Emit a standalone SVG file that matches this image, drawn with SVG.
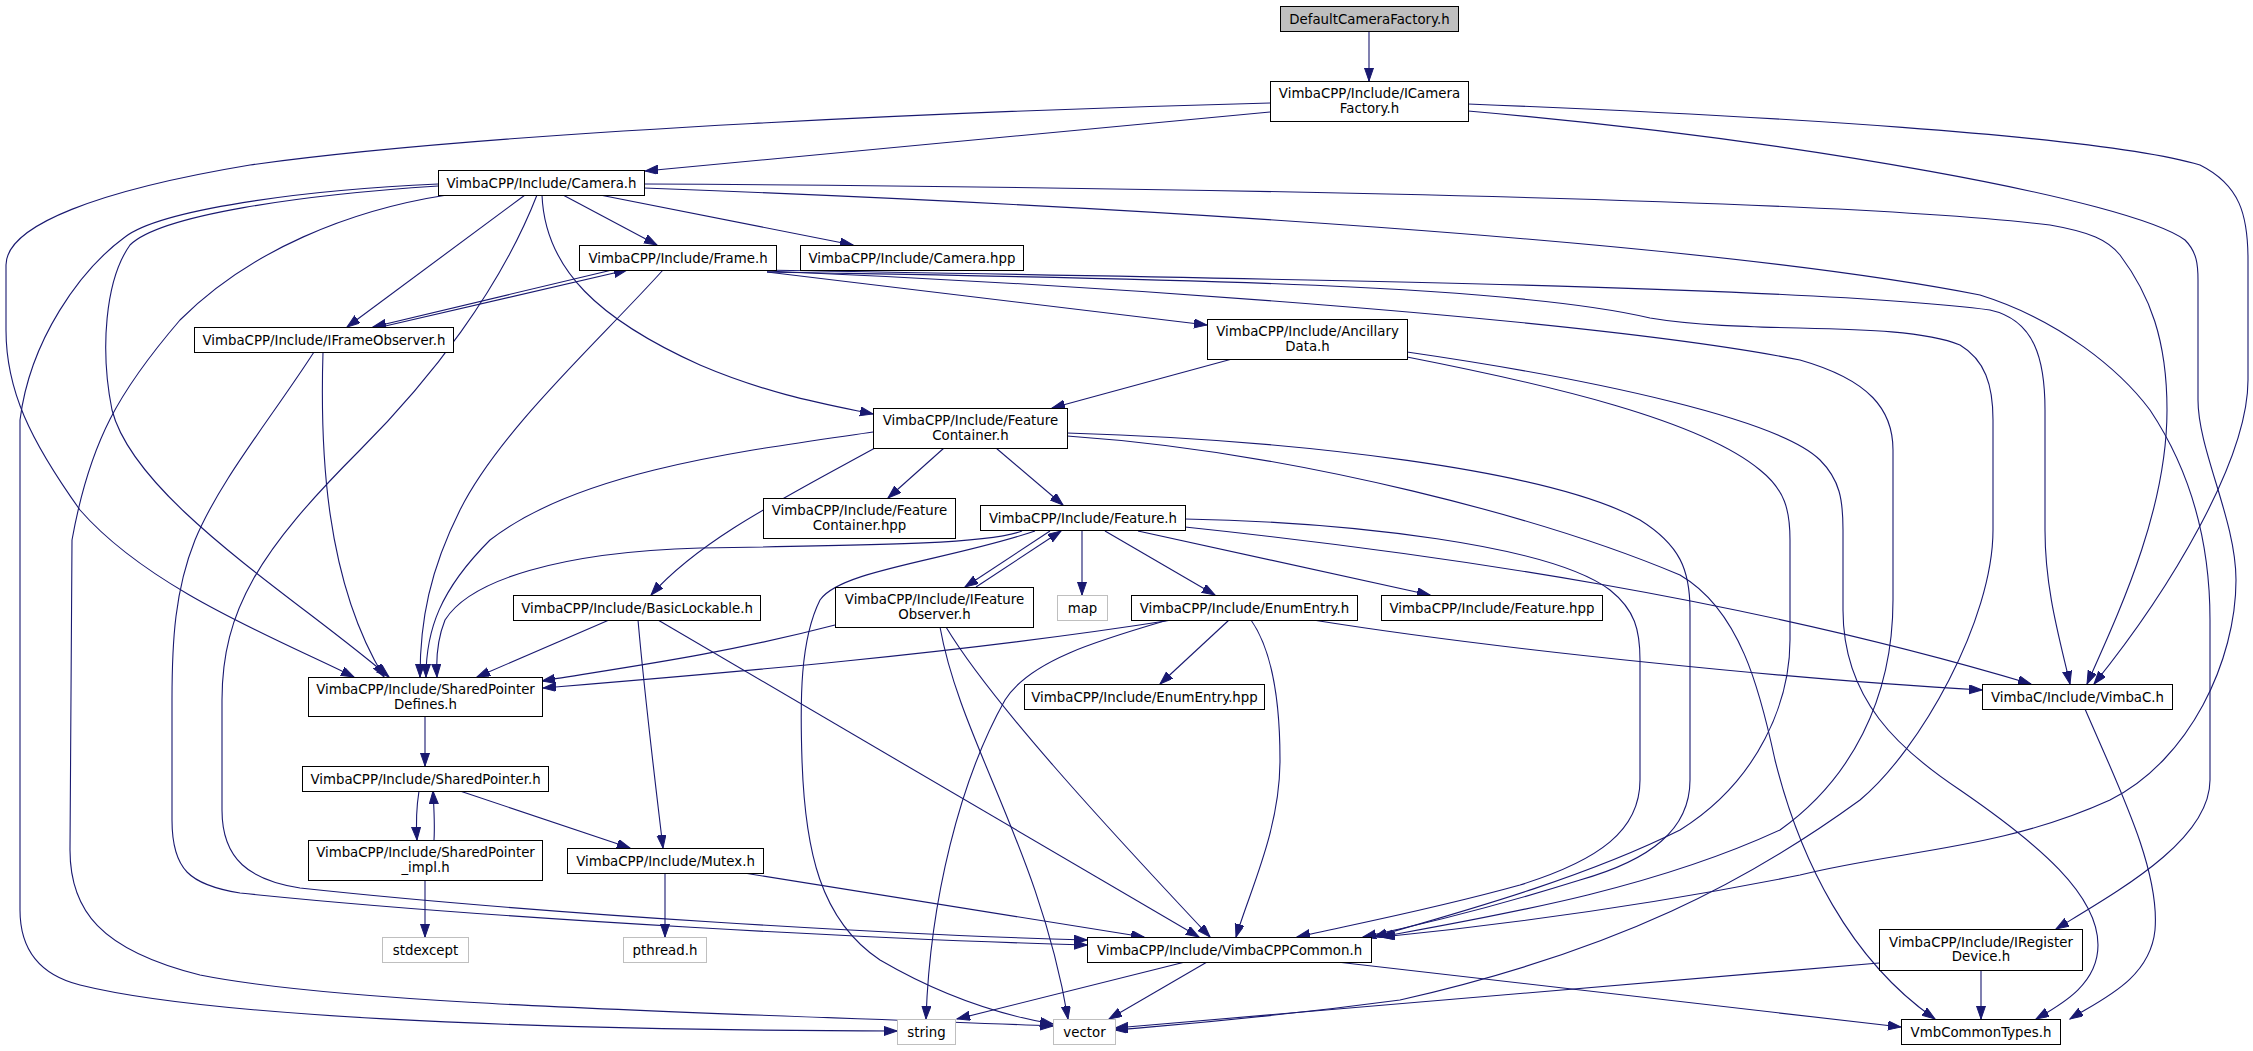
<svg xmlns="http://www.w3.org/2000/svg" width="2253" height="1051" viewBox="0 0 2253 1051">
<style>
.n rect{fill:#fff;stroke:#000;stroke-width:1}
.g rect{fill:#fff;stroke:#bfbfbf;stroke-width:1}
.r rect{fill:#bfbfbf;stroke:#000;stroke-width:1}
text{font-family:"DejaVu Sans","Liberation Sans",sans-serif;font-size:13.33px;text-anchor:middle;fill:#000}
.e path{fill:none;stroke:#191970;stroke-width:1.1;marker-end:url(#a)}
</style>
<defs>
<marker id="a" markerUnits="userSpaceOnUse" markerWidth="14" markerHeight="10" refX="13" refY="4.5" orient="auto">
<path d="M0,0 L13,4.5 L0,9 z" fill="#191970" stroke="#191970" stroke-width="1"/>
</marker>
</defs>
<rect width="2253" height="1051" fill="#fff"/>
<g id="edges" class="e">
<path d="M1369,31 L1369,81"/>
<path d="M1270,112 L645,171"/>
<path d="M1270,103 C1000,110 500,130 250,165 C100,190 6,225 6,265 L6,330 C6,390 30,440 80,510 C150,590 280,640 354,677"/>
<path d="M1468,104 C1750,115 2100,135 2200,165 C2240,185 2248,215 2248,260 L2248,380 C2248,460 2170,590 2094,684"/>
<path d="M1468,111 C1800,140 2130,200 2185,240 C2197,252 2198,265 2198,280 L2198,400 C2198,450 2236,520 2236,580 C2236,660 2190,760 2110,800 C2000,850 1900,850 1800,875 C1650,905 1500,925 1382,937"/>
<path d="M563,195 L657,245"/>
<path d="M600,195 L853,245"/>
<path d="M525,195 L347,327"/>
<path d="M542,195 C545,270 600,320 700,365 C770,395 830,405 873,414"/>
<path d="M438,186 C300,195 160,215 130,245 C105,280 100,350 112,410 C135,500 300,600 389,677"/>
<path d="M537,195 C500,290 430,380 360,450 C260,550 222,610 222,700 L222,810 C222,860 250,880 300,888 C550,915 900,935 1087,940"/>
<path d="M644,184 C1000,186 1800,195 2050,225 C2090,232 2108,240 2120,255 C2150,295 2167,340 2167,410 C2167,510 2120,610 2087,684"/>
<path d="M644,188 C1100,205 1700,240 1980,295 C2060,320 2120,370 2150,410 C2190,470 2210,540 2210,620 L2210,780 C2210,840 2120,890 2056,929"/>
<path d="M438,184 C300,190 160,210 125,237 C80,270 30,340 20,420 L20,910 C20,950 40,975 80,985 C200,1015 500,1030 897,1031"/>
<path d="M447,195 C350,210 250,250 180,320 C120,390 90,440 72,540 L70,850 C70,910 100,950 200,975 C350,1005 700,1012 1053,1026"/>
<path d="M612,270 L373,327"/>
<path d="M381,327 L627,270"/>
<path d="M767,272 L1207,325"/>
<path d="M663,270 C600,340 500,430 460,510 C430,570 420,620 420,677"/>
<path d="M767,270 C1200,278 1800,285 1990,310 C2035,320 2045,360 2045,410 L2045,530 C2045,590 2060,640 2070,684"/>
<path d="M767,271 C1100,285 1600,320 1800,360 C1870,380 1893,410 1893,450 L1893,600 C1893,700 1850,780 1780,830 C1650,890 1500,915 1380,937"/>
<path d="M767,272 C1100,278 1500,282 1650,318 C1750,335 1900,320 1960,345 C1985,360 1993,385 1993,420 L1993,530 C1993,620 1920,750 1860,800 C1750,880 1620,950 1400,1000 C1250,1020 1170,1025 1115,1030"/>
<path d="M323,352 C320,450 325,580 384,677"/>
<path d="M314,352 C270,420 220,480 195,540 C175,590 172,640 172,700 L172,820 C172,870 190,885 240,893 C500,920 900,940 1087,945"/>
<path d="M1232,359 L1052,408"/>
<path d="M1407,357 C1550,385 1700,420 1760,470 C1785,490 1790,510 1790,540 L1790,640 C1790,700 1760,780 1680,830 C1580,880 1450,915 1374,937"/>
<path d="M1407,352 C1600,380 1780,420 1820,460 C1840,480 1843,500 1843,530 L1843,610 C1843,700 1900,750 1960,790 C2040,845 2098,895 2098,945 C2098,985 2060,1005 2036,1019"/>
<path d="M944,448 L888,498"/>
<path d="M996,448 L1063,505"/>
<path d="M875,448 C780,500 700,540 651,595"/>
<path d="M873,432 C750,450 580,470 490,540 C440,590 426,630 426,677"/>
<path d="M1067,433 C1300,440 1550,470 1640,520 C1680,545 1690,570 1690,610 L1690,780 C1690,830 1650,860 1580,880 C1500,905 1420,925 1363,937"/>
<path d="M1067,436 C1300,452 1550,520 1680,575 C1740,610 1760,690 1775,760 C1800,860 1850,960 1935,1019"/>
<path d="M1050,531 L965,587"/>
<path d="M976,587 L1061,531"/>
<path d="M1082,531 L1082,595"/>
<path d="M1105,531 L1215,595"/>
<path d="M1138,531 L1430,595"/>
<path d="M1022,531 C990,543 900,545 700,548 C560,552 470,580 445,620 C437,640 436,660 437,677"/>
<path d="M1185,527 C1450,555 1750,600 2031,684"/>
<path d="M1185,519 C1350,522 1550,545 1610,590 C1635,610 1640,630 1640,660 L1640,780 C1640,830 1600,860 1520,885 C1430,910 1350,925 1297,937"/>
<path d="M1035,531 C950,560 840,570 820,600 C800,640 800,700 802,760 C805,850 820,920 880,960 C940,995 1000,1015 1053,1024"/>
<path d="M835,625 C720,655 620,668 542,681"/>
<path d="M946,627 C990,700 1100,820 1210,937"/>
<path d="M940,627 C960,740 1040,850 1068,1019"/>
<path d="M1229,620 L1160,684"/>
<path d="M1172,620 C950,655 700,675 543,688"/>
<path d="M1313,620 C1500,650 1800,680 1982,690"/>
<path d="M1251,620 C1272,650 1280,700 1280,760 C1280,830 1250,890 1236,937"/>
<path d="M1168,620 C1100,640 1030,660 1005,700 C960,780 930,900 926,1019"/>
<path d="M609,620 L477,677"/>
<path d="M638,620 C645,700 655,780 663,848"/>
<path d="M658,620 L1199,937"/>
<path d="M425,716 L425,766"/>
<path d="M419,791 C416,810 416,825 417,840"/>
<path d="M434,840 C435,825 434,808 433,791"/>
<path d="M460,791 L630,848"/>
<path d="M425,880 L425,937"/>
<path d="M665,873 L665,937"/>
<path d="M744,873 L1144,937"/>
<path d="M1185,962 L957,1019"/>
<path d="M1207,962 L1109,1019"/>
<path d="M1337,962 L1901,1027"/>
<path d="M2085,709 C2120,790 2160,870 2155,930 C2150,980 2100,1000 2070,1019"/>
<path d="M1981,970 L1981,1019"/>
<path d="M1879,963 L1115,1028"/>
</g>
<g id="DefaultCameraFactory" class="r"><rect x="1280.5" y="6.5" width="178" height="25"/><text x="1369.5" y="23.5">DefaultCameraFactory.h</text></g>
<g id="ICameraFactory" class="n"><rect x="1270.5" y="81.5" width="198" height="40"/><text x="1369.5" y="98">VimbaCPP/Include/ICamera</text><text x="1369.5" y="112.5">Factory.h</text></g>
<g id="Camera" class="n"><rect x="438.5" y="170.5" width="206" height="25"/><text x="541.5" y="187.5">VimbaCPP/Include/Camera.h</text></g>
<g id="Frame" class="n"><rect x="579.5" y="245.5" width="197" height="25"/><text x="678" y="262.5">VimbaCPP/Include/Frame.h</text></g>
<g id="CameraHpp" class="n"><rect x="800.5" y="245.5" width="223" height="25"/><text x="912" y="262.5">VimbaCPP/Include/Camera.hpp</text></g>
<g id="IFrameObserver" class="n"><rect x="194.5" y="327.5" width="259" height="25"/><text x="324" y="344.5">VimbaCPP/Include/IFrameObserver.h</text></g>
<g id="AncillaryData" class="n"><rect x="1207.5" y="319.5" width="200" height="40"/><text x="1307.5" y="336">VimbaCPP/Include/Ancillary</text><text x="1307.5" y="350.5">Data.h</text></g>
<g id="FeatureContainer" class="n"><rect x="873.5" y="408.5" width="194" height="40"/><text x="970.5" y="425">VimbaCPP/Include/Feature</text><text x="970.5" y="439.5">Container.h</text></g>
<g id="FeatureContainerHpp" class="n"><rect x="763.5" y="498.5" width="192" height="40"/><text x="859.5" y="515">VimbaCPP/Include/Feature</text><text x="859.5" y="529.5">Container.hpp</text></g>
<g id="Feature" class="n"><rect x="980.5" y="505.5" width="205" height="25"/><text x="1083" y="522.5">VimbaCPP/Include/Feature.h</text></g>
<g id="BasicLockable" class="n"><rect x="513.5" y="595.5" width="247" height="25"/><text x="637" y="612.5">VimbaCPP/Include/BasicLockable.h</text></g>
<g id="IFeatureObserver" class="n"><rect x="835.5" y="587.5" width="198" height="40"/><text x="934.5" y="604">VimbaCPP/Include/IFeature</text><text x="934.5" y="618.5">Observer.h</text></g>
<g id="map" class="g"><rect x="1057.5" y="595.5" width="50" height="25"/><text x="1082.5" y="612.5">map</text></g>
<g id="EnumEntry" class="n"><rect x="1131.5" y="595.5" width="226" height="25"/><text x="1244.5" y="612.5">VimbaCPP/Include/EnumEntry.h</text></g>
<g id="FeatureHpp" class="n"><rect x="1381.5" y="595.5" width="221" height="25"/><text x="1492" y="612.5">VimbaCPP/Include/Feature.hpp</text></g>
<g id="SharedPointerDefines" class="n"><rect x="308.5" y="677.5" width="234" height="39"/><text x="425.5" y="694">VimbaCPP/Include/SharedPointer</text><text x="425.5" y="708.5">Defines.h</text></g>
<g id="EnumEntryHpp" class="n"><rect x="1024.5" y="684.5" width="240" height="25"/><text x="1144.5" y="701.5">VimbaCPP/Include/EnumEntry.hpp</text></g>
<g id="VimbaC" class="n"><rect x="1982.5" y="684.5" width="190" height="25"/><text x="2077.5" y="701.5">VimbaC/Include/VimbaC.h</text></g>
<g id="SharedPointer" class="n"><rect x="302.5" y="766.5" width="246" height="25"/><text x="425.5" y="783.5">VimbaCPP/Include/SharedPointer.h</text></g>
<g id="SharedPointerImpl" class="n"><rect x="308.5" y="840.5" width="234" height="40"/><text x="425.5" y="857">VimbaCPP/Include/SharedPointer</text><text x="425.5" y="871.5">_impl.h</text></g>
<g id="Mutex" class="n"><rect x="567.5" y="848.5" width="196" height="25"/><text x="665.5" y="865.5">VimbaCPP/Include/Mutex.h</text></g>
<g id="stdexcept" class="g"><rect x="382.5" y="937.5" width="86" height="25"/><text x="425.5" y="954.5">stdexcept</text></g>
<g id="pthread" class="g"><rect x="623.5" y="937.5" width="83" height="25"/><text x="665" y="954.5">pthread.h</text></g>
<g id="VimbaCPPCommon" class="n"><rect x="1087.5" y="937.5" width="284" height="25"/><text x="1229.5" y="954.5">VimbaCPP/Include/VimbaCPPCommon.h</text></g>
<g id="IRegisterDevice" class="n"><rect x="1879.5" y="929.5" width="203" height="41"/><text x="1981" y="946.5">VimbaCPP/Include/IRegister</text><text x="1981" y="961">Device.h</text></g>
<g id="string" class="g"><rect x="897.5" y="1019.5" width="58" height="25"/><text x="926.5" y="1036.5">string</text></g>
<g id="vector" class="g"><rect x="1053.5" y="1019.5" width="62" height="25"/><text x="1084.5" y="1036.5">vector</text></g>
<g id="VmbCommonTypes" class="n"><rect x="1901.5" y="1019.5" width="159" height="25"/><text x="1981" y="1036.5">VmbCommonTypes.h</text></g>
</svg>
